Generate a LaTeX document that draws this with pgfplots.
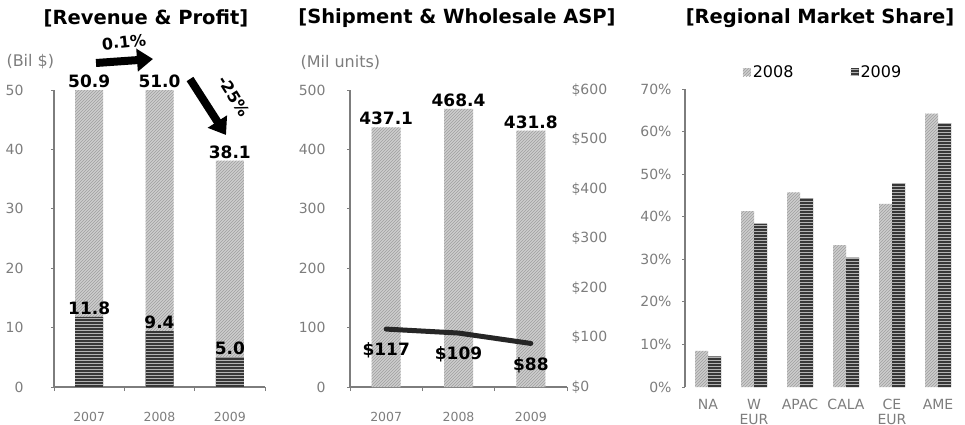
\documentclass[border=0pt]{standalone}
\usepackage{fontspec}
\setmainfont{DejaVu Sans}
\usepackage{pgfplots}
\usepackage{pgfplotstable}
\pgfplotsset{compat=1.18}
\usetikzlibrary{patterns,arrows.meta}
\definecolor{tickgray}{RGB}{125,125,125}
\definecolor{lightbar}{RGB}{205,205,205}
\definecolor{darkbar}{RGB}{55,55,55}

\newcommand{\fs}[1]{\fontsize{#1}{#1}\selectfont}

\pgfplotsset{
  panel/.style={
    scale only axis, axis lines*=left, tick align=outside,
    axis line style={tickgray, line width=1.2pt},
    tick style={tickgray, line width=0.8pt},
    major tick length=3pt, minor tick length=4pt,
    /pgf/number format/assume math mode=true,
    ticklabel style={font=\fs{14}, text=tickgray},
    ymin=0, enlarge y limits=false,
  },
  lightbar/.style={fill=lightbar, draw=none,
    postaction={pattern=north east lines, pattern color=gray!75}},
  darkbar/.style={fill=darkbar, draw=none,
    postaction={pattern=horizontal lines, pattern color=gray!60}},
  barlabel/.style={nodes near coords={\pgfmathprintnumber[fixed,fixed zerofill,precision=1]{\pgfplotspointmeta}},
    every node near coord/.append style={font=\bfseries\fs{17}, text=black, anchor=south, inner sep=2pt}},
}

% revenue: bars reach past the axis top and are cut at 50
\pgfplotstableread{
x y
0 50.9
1 51.0
2 38.1
}\revenue

\begin{document}
\begin{tikzpicture}[x=1pt,y=1pt]
\path[use as bounding box] (0,0) rectangle (965,424);

% titles
\node[font=\bfseries\fs{19.5}] at (146,406) {[Revenue \& Profit]};
\node[font=\bfseries\fs{19.5}] at (457,406) {[Shipment \& Wholesale ASP]};
\node[font=\bfseries\fs{19.5}] at (820,406) {[Regional Market Share]};

% ---- revenue & profit
\begin{axis}[panel, at={(54pt,37pt)}, anchor=south west,
  width=211pt, height=297pt,
  ybar, bar width=28pt, clip=false,
  xmin=-0.5, xmax=2.5, ymax=50, ytick={0,10,...,50},
  xtick={0,1,2}, xticklabels={2007,2008,2009},
  minor xtick={-0.5,0.5,1.5,2.5},
  x tick style={draw=none}, minor x tick style={draw=tickgray},
  xticklabel style={font=\fs{12.5}, yshift=-19pt},
  yticklabel style={xshift=-24pt},
]
\addplot[lightbar, bar shift=0pt, barlabel, restrict y to domain*=0:50,
  point meta=explicit] table[x=x, y=y, meta=y] {\revenue};
\addplot[darkbar, bar shift=0pt, barlabel] coordinates {(0,11.8) (1,9.4) (2,5.0)};
\end{axis}
\node[font=\fs{16}, text=tickgray, anchor=west] at (3,362) {(Bil \$)};
\draw[line width=8pt, -{Triangle[length=16pt,width=22pt]}] (96,361) -- (153,365);
\node[font=\bfseries\fs{16}, rotate=6] at (124,382) {0.1\%};
\draw[line width=8pt, -{Triangle[length=16pt,width=22pt]}] (190,345) -- (226,289);
\node[font=\bfseries\fs{16}, rotate=-58] at (234,328) {-25\%};

% ---- shipment & ASP
\begin{axis}[panel, at={(350pt,37pt)}, anchor=south west,
  width=217pt, height=297pt,
  ybar, bar width=29pt,
  xmin=-0.5, xmax=2.5, ymax=500, ytick={0,100,...,500},
  xtick={0,1,2}, xticklabels={2007,2008,2009},
  minor xtick={-0.5,0.5,1.5,2.5},
  x tick style={draw=none}, minor x tick style={draw=tickgray},
  xticklabel style={font=\fs{12.5}, yshift=-19pt},
  yticklabel style={xshift=-18pt},
]
\addplot[lightbar, bar shift=0pt, barlabel] coordinates {(0,437.1) (1,468.4) (2,431.8)};
\end{axis}
\begin{axis}[panel, at={(350pt,37pt)}, anchor=south west,
  width=217pt, height=297pt,
  axis x line=none, axis y line*=right,
  y axis line style={draw=none}, ytick style={draw=none},
  xmin=-0.5, xmax=2.5, ymax=600, ytick={0,100,...,600},
  yticklabel={\$\pgfmathprintnumber{\tick}},
  yticklabel style={anchor=west, xshift=-2pt},
]
\addplot[black!85, line width=5pt, line cap=round, mark=none,
  nodes near coords={\$\pgfmathprintnumber{\pgfplotspointmeta}},
  every node near coord/.append style={font=\bfseries\fs{17}, text=black, anchor=north, yshift=-8pt}]
  coordinates {(0,117) (1,109) (2,88)};
\end{axis}
\node[font=\fs{16}, text=tickgray, anchor=west] at (297,362) {(Mil units)};

% ---- regional share
\begin{axis}[panel, at={(685pt,37pt)}, anchor=south west,
  width=276pt, height=298pt,
  ybar=0pt, bar width=13pt,
  xmin=-0.5, xmax=5.5, ymax=70, ytick={0,10,...,70},
  yticklabel={\pgfmathprintnumber{\tick}\%},
  yticklabel style={xshift=-7pt},
  x axis line style={draw=none}, x tick style={draw=none},
  xtick={0,...,5}, xticklabels={NA,{W\\EUR},APAC,CALA,{CE\\EUR},AME},
  xticklabel style={align=center, yshift=-6pt, font=\fontsize{14}{15}\selectfont},
  legend style={at={(0.5,1.057)}, anchor=center, draw=none, fill=none,
    legend columns=2, font=\fs{16},
    /tikz/every even column/.append style={column sep=55pt}},
  legend image code/.code={\fill[#1] (0pt,-4pt) rectangle (8pt,4pt);},
]
\addplot[lightbar] coordinates {(0,8.5) (1,41.3) (2,45.7) (3,33.3) (4,43.0) (5,64.2)};
\addplot[darkbar] coordinates {(0,7.2) (1,38.4) (2,44.3) (3,30.4) (4,47.9) (5,62.0)};
\legend{2008,2009}
\end{axis}
\end{tikzpicture}
\end{document}
